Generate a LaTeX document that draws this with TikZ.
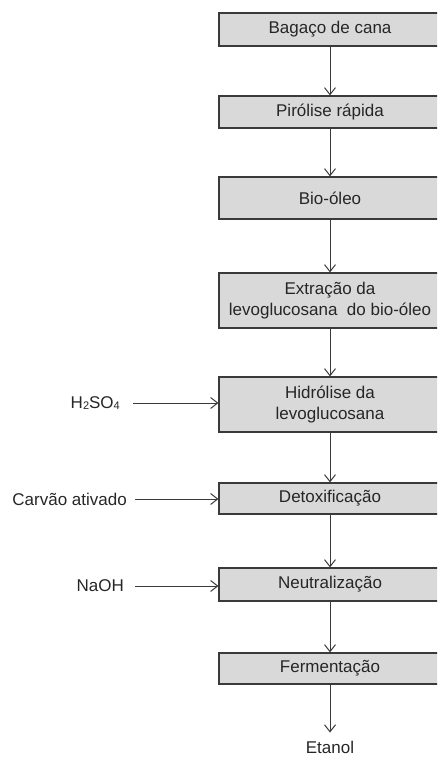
\documentclass[tikz,border=0pt]{standalone}
\usepackage{fontspec}
\setmainfont{Liberation Sans}
\usetikzlibrary{arrows.meta}
\definecolor{caixa}{HTML}{D9D9D9}
\definecolor{linha}{HTML}{3A3A3A}
\newcommand{\indice}[1]{\raisebox{-1.5pt}{\fontsize{11}{11}\selectfont #1}}

\begin{document}
\begin{tikzpicture}[x=1pt,y=-1pt,
  etapa/.style={draw=linha,fill=caixa,line width=1.2pt,minimum width=222pt,
    inner sep=0pt,align=center,text=black!85,font=\fontsize{17}{21}\selectfont},
  texto/.style={inner sep=0pt,text=black!85,font=\fontsize{17}{21}\selectfont},
  fluxo/.style={draw=linha,line width=1pt,-{Straight Barb[length=7pt,width=11pt]}}]
  \clip (0,0) rectangle (437,758);
  % Etapas
  \node[etapa,minimum height=33] (bagaco) at (330,29.5) {Bagaço de cana};
  \node[etapa,minimum height=32] (pirolise) at (330,112) {Pirólise rápida};
  \node[etapa,minimum height=42] (bioleo) at (330,198) {Bio-óleo};
  \node[etapa,minimum height=55] (extracao) at (330,300.5) {Extração da\\levoglucosana\ \ do bio-óleo};
  \node[etapa,minimum height=55] (hidrolise) at (330,404.5) {Hidrólise da\\levoglucosana};
  \node[etapa,minimum height=31] (detox) at (330,498.5) {Detoxificação};
  \node[etapa,minimum height=33] (neutral) at (330,584.5) {Neutralização};
  \node[etapa,minimum height=31] (ferment) at (330,668.5) {Fermentação};
  \node[texto] (etanol) at (330,747) {Etanol};
  % Entradas
  \node[texto,anchor=east] (acido) at (120,403) {H\indice{2}SO\indice{4}};
  \node[texto,anchor=east] (carvao) at (127,499) {Carvão ativado};
  \node[texto,anchor=east] (naoh) at (124,586) {NaOH};
  % Setas
  \draw[fluxo] (bagaco) -- (pirolise);
  \draw[fluxo] (pirolise) -- (bioleo);
  \draw[fluxo] (bioleo) -- (extracao);
  \draw[fluxo] (extracao) -- (hidrolise);
  \draw[fluxo] (hidrolise) -- (detox);
  \draw[fluxo] (detox) -- (neutral);
  \draw[fluxo] (neutral) -- (ferment);
  \draw[fluxo] (ferment.south) -- ([yshift=8pt]etanol.north);
  \draw[fluxo] ([xshift=13pt]acido.east) -- (acido.east -| hidrolise.west);
  \draw[fluxo] ([xshift=8pt]carvao.east) -- (carvao.east -| detox.west);
  \draw[fluxo] ([xshift=11pt]naoh.east) -- (naoh.east -| neutral.west);
\end{tikzpicture}
\end{document}
